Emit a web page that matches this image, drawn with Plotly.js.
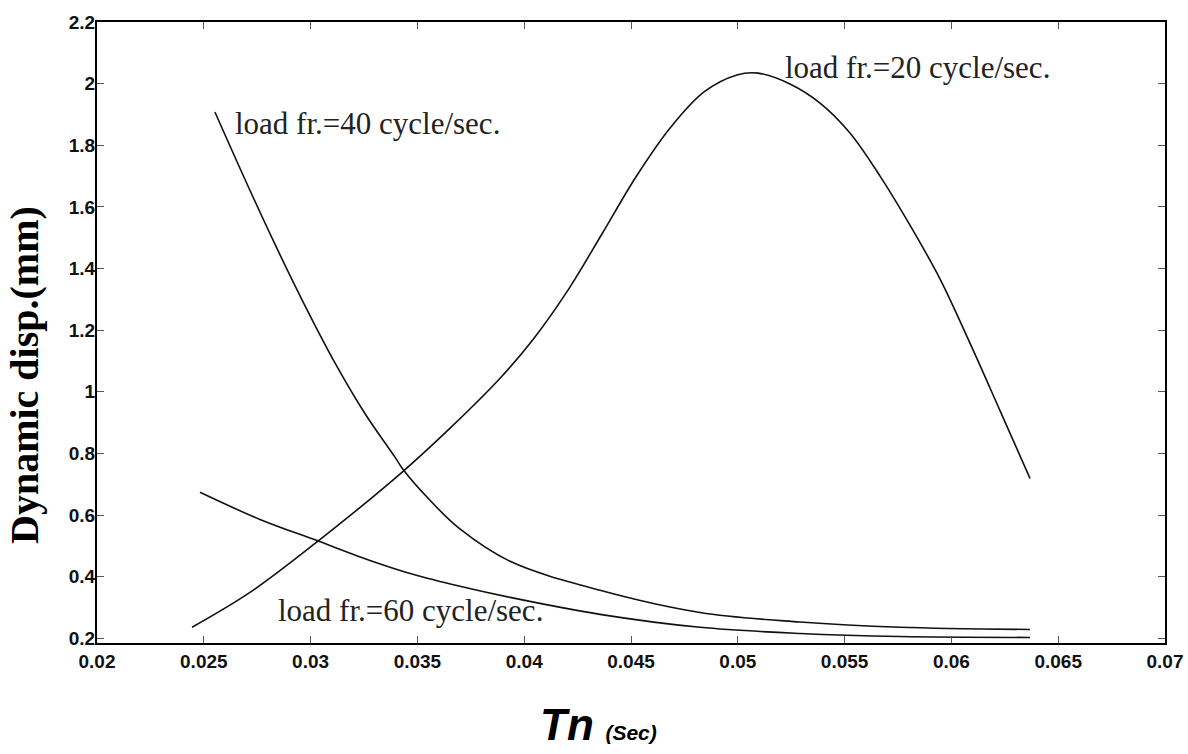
<!DOCTYPE html>
<html>
<head>
<meta charset="utf-8">
<script src="https://cdn.plot.ly/plotly-3.0.1.min.js"></script>
<style>html,body{margin:0;padding:0;background:#fff;}#chart{width:1188px;height:754px;}</style>
</head>
<body>
<div id="chart"></div>
<script>
// Curve: load frequency = 20 cycle/sec
const x20 = [0.02445, 0.02716, 0.03039, 0.03433, 0.03653, 0.03887, 0.04046, 0.04205, 0.04364, 0.04523, 0.04683, 0.04842, 0.04996, 0.05095, 0.05244, 0.05385, 0.05525, 0.05666, 0.05806, 0.05947, 0.06087, 0.06227, 0.06368];
const y20 = [0.236, 0.349, 0.518, 0.742, 0.882, 1.044, 1.174, 1.330, 1.512, 1.697, 1.856, 1.973, 2.028, 2.034, 1.999, 1.937, 1.840, 1.700, 1.541, 1.366, 1.158, 0.940, 0.719];
// Curve: load frequency = 40 cycle/sec
const x40 = [0.02552, 0.02693, 0.02833, 0.02974, 0.03114, 0.03255, 0.03395, 0.03433, 0.03559, 0.03699, 0.03934, 0.04355, 0.04823, 0.05291, 0.05759, 0.06368];
const y40 = [1.908, 1.689, 1.479, 1.279, 1.094, 0.929, 0.788, 0.748, 0.648, 0.555, 0.450, 0.356, 0.284, 0.253, 0.236, 0.229];
// Curve: load frequency = 60 cycle/sec
const x60 = [0.02482, 0.02763, 0.03039, 0.03278, 0.03479, 0.03699, 0.03934, 0.04355, 0.04823, 0.05291, 0.05759, 0.06368];
const y60 = [0.674, 0.586, 0.515, 0.453, 0.408, 0.369, 0.333, 0.278, 0.236, 0.216, 0.206, 0.203];

const xTickVals = [0.02, 0.025, 0.03, 0.035, 0.04, 0.045, 0.05, 0.055, 0.06, 0.065, 0.07];
const xTickText = ["0.02", "0.025", "0.03", "0.035", "0.04", "0.045", "0.05", "0.055", "0.06", "0.065", "0.07"];
const yTickVals = [0.2, 0.4, 0.6, 0.8, 1, 1.2, 1.4, 1.6, 1.8, 2, 2.2];
const yTickText = ["0.2", "0.4", "0.6", "0.8", "1", "1.2", "1.4", "1.6", "1.8", "2", "2.2"];

const labels = ["load fr.=20 cycle/sec.", "load fr.=40 cycle/sec.", "load fr.=60 cycle/sec."];
const labelX = [0.05212, 0.02637, 0.02838];
const labelY = [2.053, 1.872, 0.290];

const lineStyle = {color: '#111', width: 1.6, shape: 'spline', smoothing: 1};
const traces = [
  {x: x20, y: y20, mode: 'lines', line: lineStyle, name: labels[0], showlegend: false},
  {x: x40, y: y40, mode: 'lines', line: lineStyle, name: labels[1], showlegend: false},
  {x: x60, y: y60, mode: 'lines', line: lineStyle, name: labels[2], showlegend: false}
];

const tickFont = {family: 'Liberation Sans, Arial, sans-serif', size: 19, color: '#111', weight: 'bold'};
const serif = 'Liberation Serif, Times New Roman, serif';

const annotations = labels.map((t, i) => ({
  x: labelX[i], y: labelY[i], xref: 'x', yref: 'y', text: t, showarrow: false,
  xanchor: 'left', yanchor: 'middle', font: {family: serif, size: 31, color: '#222'}
}));
annotations.push({
  xref: 'paper', yref: 'paper', x: -0.0674, y: 0.4316, textangle: -90,
  text: 'Dynamic disp.(mm)', showarrow: false, xanchor: 'center', yanchor: 'middle',
  font: {family: serif, size: 40, color: '#000', weight: 'bold'}
});
annotations.push({
  xref: 'paper', yref: 'paper', x: 0.47, y: -0.132,
  text: '<b><i>Tn</i></b><b><i><span style="font-size:21px">  (Sec)</span></i></b>',
  showarrow: false, xanchor: 'center', yanchor: 'middle',
  font: {family: 'Liberation Sans, Arial, sans-serif', size: 44, color: '#000'}
});

const layout = {
  width: 1188, height: 754,
  margin: {l: 97, r: 23, t: 22, b: 111},
  paper_bgcolor: '#fff', plot_bgcolor: '#fff',
  showlegend: false,
  xaxis: {
    range: [0.02, 0.07], tickvals: xTickVals, ticktext: xTickText,
    ticks: 'inside', ticklen: 7, tickwidth: 1, tickcolor: '#555',
    showline: true, linecolor: '#000', linewidth: 2, mirror: 'allticks',
    showgrid: false, zeroline: false, tickfont: tickFont
  },
  yaxis: {
    range: [0.185, 2.2], tickvals: yTickVals, ticktext: yTickText,
    ticks: 'inside', ticklen: 7, tickwidth: 1, tickcolor: '#555',
    showline: true, linecolor: '#000', linewidth: 2, mirror: 'allticks',
    showgrid: false, zeroline: false, tickfont: tickFont, ticklabelstandoff: -4
  },
  annotations: annotations
};

Plotly.newPlot('chart', traces, layout, {displayModeBar: false, staticPlot: true});
</script>
</body>
</html>
